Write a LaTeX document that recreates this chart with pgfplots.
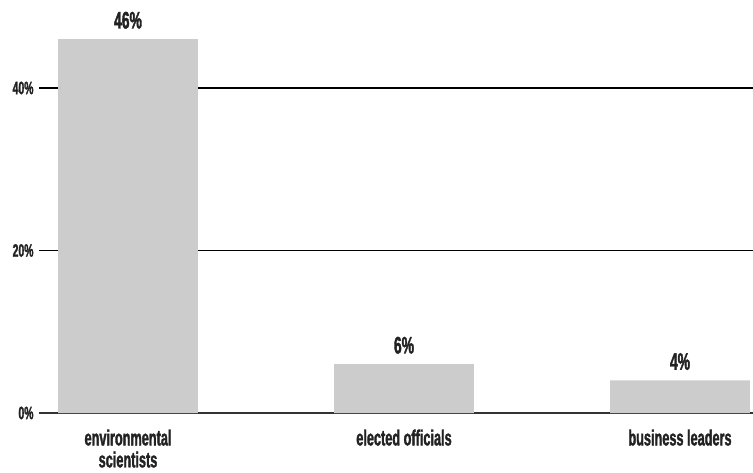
\documentclass[border=0pt]{standalone}
\usepackage{fontspec}
\setmainfont{Liberation Sans}[FakeStretch=0.58, BoldFeatures={FakeBold=1.5}]
\usepackage{pgfplots}
\pgfplotsset{compat=1.18}
\definecolor{bargray}{HTML}{CCCCCC}
\definecolor{basegray}{HTML}{333333}
\definecolor{textgray}{HTML}{222222}
\begin{document}
\begin{tikzpicture}
\useasboundingbox (0,0) rectangle (753bp,473bp);
\begin{axis}[
  at={(39bp,60bp)}, anchor=south west,
  scale only axis, width=714bp, height=413bp,
  xmin=-0.3225, xmax=2.2645,
  ymin=0, ymax=50.83,
  axis y line*=left,
  y axis line style={draw=none},
  axis x line*=bottom,
  x axis line style={basegray, line width=2.5bp, -},
  ytick={0,20,40},
  ymajorgrids,
  grid style={black, line width=1.8bp},
  major tick length=0,
  xtick={0,1,2},
  xticklabels={environmental\\scientists, elected officials, business leaders},
  xticklabel style={font=\fontsize{22}{22}\selectfont\bfseries, text=textgray, align=center, text depth=0pt, yshift=-13bp},
  /pgf/number format/assume math mode=true,
  yticklabel={\pgfmathprintnumber{\tick}\%},
  yticklabel style={font=\fontsize{18}{18}\selectfont\bfseries, text=textgray, xshift=-2bp},
  ybar, bar width=0.507,
  nodes near coords={\pgfmathprintnumber{\pgfplotspointmeta}\%},
  nodes near coords style={font=\fontsize{24}{24}\selectfont\bfseries, text=textgray, anchor=south, yshift=7bp},
  clip=false,
]
\addplot[fill=bargray, draw=none] coordinates {(0,46) (1,6) (2,4)};
\end{axis}
\end{tikzpicture}
\end{document}
